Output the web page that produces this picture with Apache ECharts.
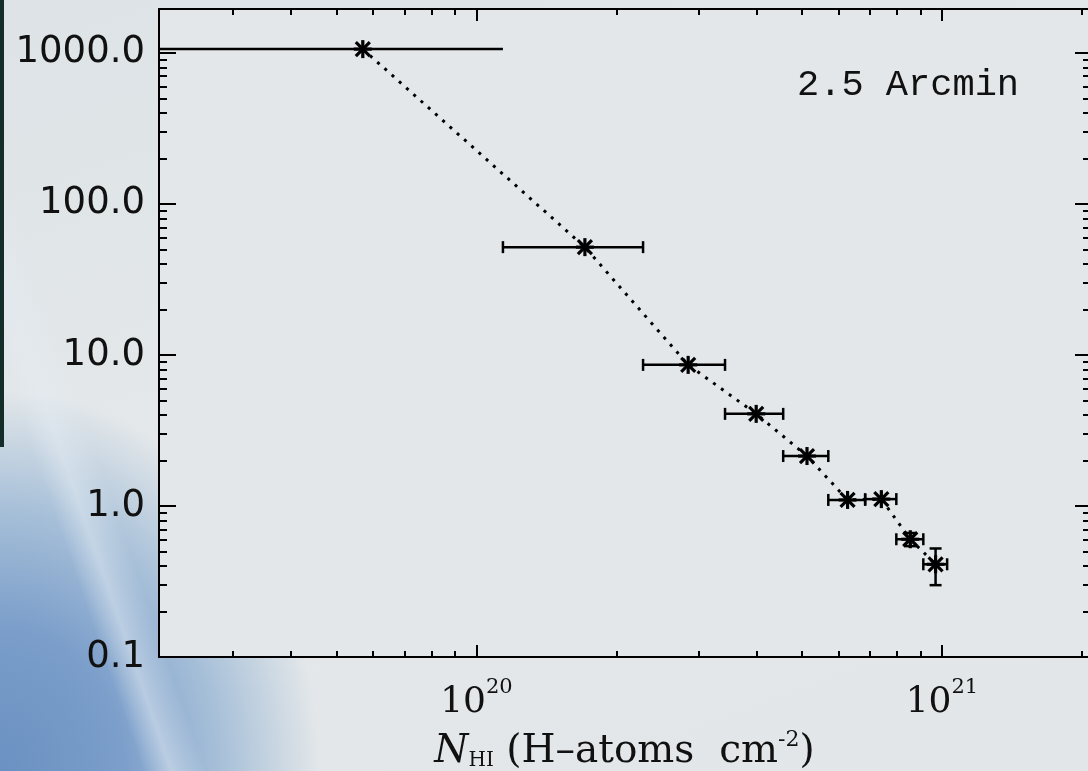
<!DOCTYPE html>
<html><head><meta charset="utf-8">
<script src="https://cdn.jsdelivr.net/npm/echarts@6/dist/echarts.min.js"></script>
<style>
html,body{margin:0;padding:0;}
body{width:1088px;height:771px;overflow:hidden;position:relative;
background:
 linear-gradient(71deg, rgba(255,255,255,0) 0px, rgba(255,255,255,0) 135px, rgba(228,236,243,0.5) 162px, rgba(255,255,255,0) 195px),
 radial-gradient(ellipse 320px 380px at 0px 771px, #6a91c2 0%, #7b9eca 38%, #a9c1d9 70%, rgba(222,229,234,0) 100%),
 linear-gradient(160deg, #dde3e6 0%, #e4e8ea 45%, #e2e6e8 100%);}
#strip{position:absolute;left:0;top:0;width:4px;height:447px;background:#142d29;}
#chart{position:absolute;left:0;top:0;width:1088px;height:771px;}
</style></head>
<body><div id="strip"></div><div id="chart"></div>
<script>
// ---- data ----
const nH       = [0.57e20, 1.71e20, 2.85e20, 3.99e20, 5.13e20, 6.27e20, 7.41e20, 8.55e20, 9.69e20];
const nHErr    = [0.57e20, 0.57e20, 0.57e20, 0.57e20, 0.57e20, 0.57e20, 0.57e20, 0.57e20, 0.57e20];
const counts   = [1058, 51.7, 8.59, 4.07, 2.14, 1.096, 1.11, 0.602, 0.411];
const countErr = [0, 0, 0, 0, 0, 0, 0, 0.06, 0.112];
const xMajorTicks = [1e20, 1e21];
const xMajorExp   = ['20', '21'];
const yMajorTicks = [0.1, 1, 10, 100, 1000];
const yMajorLabels = ['0.1', '1.0', '10.0', '100.0', '1000.0'];
const annotation = '2.5 Arcmin';
const xMin = 2.08e19, xMax = 2.08e21, yMin = 0.1, yMax = 1950;

function minorTicks(lo, hi, e0, e1) {
  const out = [];
  for (let e = e0; e <= e1; e++) for (let m = 2; m <= 9; m++) {
    const v = m * Math.pow(10, e);
    if (v >= lo && v <= hi) out.push(v);
  }
  return out;
}
const xMinorTicks = minorTicks(xMin, xMax, 19, 21);
const yMinorTicks = minorTicks(yMin, yMax, -1, 3);

function idxOf(arr, v) {
  for (let i = 0; i < arr.length; i++) if (Math.abs(Math.log10(arr[i]) - Math.log10(v)) < 1e-6) return i;
  return -1;
}

const chart = echarts.init(document.getElementById('chart'), null, {renderer: 'canvas'});
const black = '#000';
const ink = '#111';
const serif = 'DejaVu Serif';
function xAx(pos, ticks, len, major) {
  return {
    type: 'log', logBase: 10, min: xMin, max: xMax, position: pos,
    axisLine: {show: major, lineStyle: {color: black, width: 2}},
    axisTick: {show: true, inside: true, length: len, customValues: ticks, lineStyle: {color: black, width: 2}},
    axisLabel: (major && pos === 'bottom') ? {
      show: true, customValues: xMajorTicks, margin: 20,
      formatter: v => { const i = idxOf(xMajorTicks, v); return i < 0 ? '' : '{b|10}{s|' + xMajorExp[i] + '}'; },
      rich: {
        b: {fontFamily: serif, fontSize: 36, color: ink, lineHeight: 44, verticalAlign: 'bottom'},
        s: {fontFamily: serif, fontSize: 21, color: ink, verticalAlign: 'top', lineHeight: 44}
      }
    } : {show: false},
    splitLine: {show: false}, minorTick: {show: false}, minorSplitLine: {show: false},
    name: (major && pos === 'bottom') ? '{n|N}{sub|HI}{t| (H–atoms  cm}{sup|-2}{t|)}' : '',
    nameLocation: 'middle', nameGap: 72,
    nameTextStyle: {
      rich: {
        n: {fontFamily: serif, fontStyle: 'italic', fontSize: 39, color: ink, verticalAlign: 'bottom', lineHeight: 42},
        sub: {fontFamily: serif, fontSize: 20, color: ink, verticalAlign: 'bottom', lineHeight: 36},
        t: {fontFamily: serif, fontSize: 39, color: ink, verticalAlign: 'bottom', lineHeight: 42},
        sup: {fontFamily: serif, fontSize: 22, color: ink, verticalAlign: 'top', lineHeight: 42}
      }
    }
  };
}
function yAx(pos, ticks, len, major) {
  return {
    type: 'log', logBase: 10, min: yMin, max: yMax, position: pos,
    axisLine: {show: major, lineStyle: {color: black, width: 2}},
    axisTick: {show: true, inside: true, length: len, customValues: ticks, lineStyle: {color: black, width: 2}},
    axisLabel: (major && pos === 'left') ? {
      show: true, customValues: yMajorTicks, margin: 14,
      fontFamily: 'DejaVu Sans', fontSize: 37, color: ink,
      formatter: v => { const i = idxOf(yMajorTicks, v); return i < 0 ? '' : yMajorLabels[i]; }
    } : {show: false},
    splitLine: {show: false}, minorTick: {show: false}, minorSplitLine: {show: false}
  };
}

const pts = nH.map((x, i) => [x, counts[i], nHErr[i], countErr[i]]);

chart.setOption({
  animation: false,
  backgroundColor: 'transparent',
  grid: {left: 159, top: 9, width: 931, height: 648, containLabel: false, outerBoundsMode: 'none',
         show: true, backgroundColor: '#e3e7e9', borderWidth: 0},
  title: {
    text: annotation, left: 792, top: 62,
    textStyle: {fontFamily: 'Liberation Mono', fontSize: 37, fontWeight: 'normal', color: ink}
  },
  xAxis: [
    xAx('bottom', xMajorTicks, 12, true),
    xAx('bottom', xMinorTicks, 6, false),
    xAx('top', xMajorTicks, 12, true),
    xAx('top', xMinorTicks, 6, false)
  ],
  yAxis: [
    yAx('left', yMajorTicks, 17, true),
    yAx('left', yMinorTicks, 8, false),
    yAx('right', yMajorTicks, 15, true),
    yAx('right', yMinorTicks, 7, false)
  ],
  series: [
    {
      type: 'line', xAxisIndex: 0, yAxisIndex: 0, data: pts.map(p => [p[0], p[1]]),
      symbol: 'none', z: 2,
      lineStyle: {color: black, width: 3, type: [3, 6.7], cap: 'butt'}
    },
    {
      type: 'custom', xAxisIndex: 0, yAxisIndex: 0, data: pts, clip: true, z: 3,
      renderItem: (params, api) => {
        const x = api.value(0), y = api.value(1), xe = api.value(2), ye = api.value(3);
        const c = api.coord([x, y]);
        const cs = params.coordSys;
        const st = {stroke: black, lineWidth: 2.5};
        const kids = [];
        const lo = x - xe, hi = x + xe;
        const clipped = lo < xMin;
        const pl = clipped ? cs.x : api.coord([lo, y])[0];
        const pr = api.coord([hi, y])[0];
        kids.push({type: 'line', shape: {x1: pl, y1: c[1], x2: pr, y2: c[1]}, style: st});
        if (!clipped) {
          kids.push({type: 'line', shape: {x1: pl, y1: c[1] - 6, x2: pl, y2: c[1] + 6}, style: st});
          kids.push({type: 'line', shape: {x1: pr, y1: c[1] - 6, x2: pr, y2: c[1] + 6}, style: st});
        }
        if (ye > 0) {
          const pt = api.coord([x, y + ye])[1], pb = api.coord([x, y - ye])[1];
          kids.push({type: 'line', shape: {x1: c[0], y1: pt, x2: c[0], y2: pb}, style: st});
          kids.push({type: 'line', shape: {x1: c[0] - 6, y1: pt, x2: c[0] + 6, y2: pt}, style: st});
          kids.push({type: 'line', shape: {x1: c[0] - 6, y1: pb, x2: c[0] + 6, y2: pb}, style: st});
        }
        const r = 9, d = 7;
        const ss = {stroke: black, lineWidth: 3.2};
        kids.push({type: 'line', shape: {x1: c[0] - r, y1: c[1], x2: c[0] + r, y2: c[1]}, style: ss});
        kids.push({type: 'line', shape: {x1: c[0], y1: c[1] - r, x2: c[0], y2: c[1] + r}, style: ss});
        kids.push({type: 'line', shape: {x1: c[0] - d, y1: c[1] - d, x2: c[0] + d, y2: c[1] + d}, style: ss});
        kids.push({type: 'line', shape: {x1: c[0] - d, y1: c[1] + d, x2: c[0] + d, y2: c[1] - d}, style: ss});
        return {type: 'group', children: kids};
      }
    }
  ]
});
</script>
</body></html>
